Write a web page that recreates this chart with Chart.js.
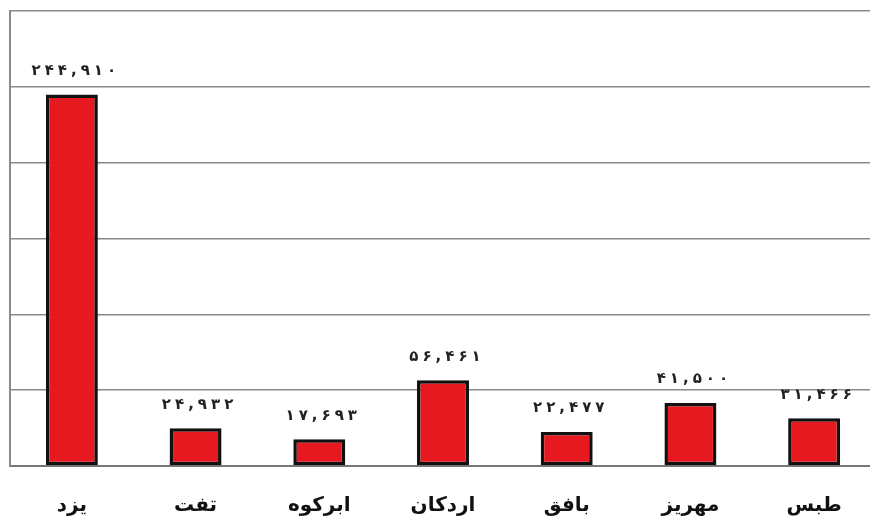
<!DOCTYPE html>
<html>
<head>
<meta charset="utf-8">
<script src="https://cdn.jsdelivr.net/npm/chart.js@4.4.1/dist/chart.umd.min.js"></script>
<style>
  html, body { margin: 0; padding: 0; background: #fff; overflow: hidden; }
  #wrap { width: 880px; height: 521px; position: relative; }
</style>
</head>
<body>
<div id="wrap"><canvas id="chart"></canvas></div>
<script>
// شهرستان‌های استان یزد
const cities = ['یزد', 'تفت', 'ابرکوه', 'اردکان', 'بافق', 'مهریز', 'طبس'];
const values = [244910, 24932, 17693, 56461, 22477, 41500, 31466];
const yMax = 300000;
const yStep = 50000;

// ارقام فارسی
function toPersian(n) {
  const digits = '۰۱۲۳۴۵۶۷۸۹';
  return n.toLocaleString('en-US').replace(/\d/g, d => digits[d]);
}

// برچسب مقدار بالای هر ستون (با فاصله بین ارقام)
const valueLabels = {
  id: 'valueLabels',
  afterDatasetsDraw(chart) {
    const ctx = chart.ctx;
    const meta = chart.getDatasetMeta(0);
    const gap = 4;
    ctx.save();
    ctx.font = "bold 15px 'DejaVu Sans'";
    ctx.fillStyle = '#222';
    ctx.textAlign = 'left';
    ctx.textBaseline = 'bottom';
    meta.data.forEach((bar, i) => {
      const chars = Array.from(toPersian(values[i]));
      const widths = chars.map(c => ctx.measureText(c).width);
      const total = widths.reduce((a, b) => a + b, 0) + gap * (chars.length - 1);
      let x = bar.x - total / 2 + 2;
      chars.forEach((c, k) => {
        ctx.fillText(c, x, bar.y - 16);
        x += widths[k] + gap;
      });
    });
    ctx.restore();
  }
};

new Chart(document.getElementById('chart'), {
  type: 'bar',
  data: {
    labels: cities,
    datasets: [{
      data: values,
      backgroundColor: '#e5191f',
      borderColor: '#111',
      borderWidth: 3.5,
      borderSkipped: false,
      barPercentage: 0.42,
      categoryPercentage: 1
    }]
  },
  options: {
    responsive: true,
    maintainAspectRatio: false,
    animation: false,
    layout: { padding: { left: 10, top: 11, right: 4, bottom: 0 } },
    plugins: {
      legend: { display: false },
      tooltip: { enabled: false }
    },
    scales: {
      x: {
        grid: { display: false, drawTicks: false },
        border: { display: true, color: '#777', width: 2 },
        afterFit: (scale) => { scale.height = 55; },
        ticks: {
          color: '#111',
          padding: 28,
          maxRotation: 0,
          font: { family: "'DejaVu Sans'", size: 20, weight: 'bold' }
        }
      },
      y: {
        min: 0,
        max: yMax,
        grid: { color: '#8a8a8a', lineWidth: 1.5, drawTicks: false },
        border: { display: true, color: '#8a8a8a', width: 2 },
        ticks: { display: false, stepSize: yStep }
      }
    }
  },
  plugins: [valueLabels]
});
</script>
</body>
</html>
